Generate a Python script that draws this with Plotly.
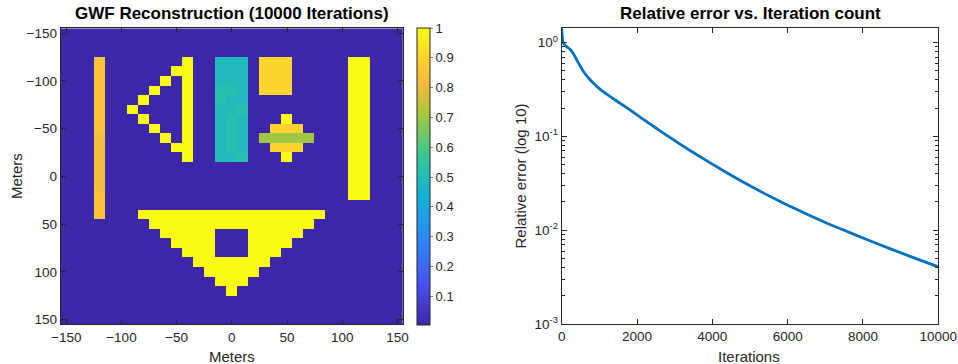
import plotly.graph_objects as go

# ---------------- data ----------------
grid_x = list(range(-150, 151, 10))
grid_y = list(range(-150, 151, 10))
background_value = 0.004

# rectangles: (x_min, x_max, y_min, y_max, value)  (cell centres, metres)
rectangles = [
    (-120, -120, -120, -50, 0.85),   # left orange bar (upper)
    (-120, -120, -40, 10, 0.83),     # left orange bar (middle, darker)
    (-120, -120, 20, 40, 0.85),      # left orange bar (lower)
    (-40, -40, -120, -20, 1.0),      # triangle vertical edge
    (-10, 10, -120, -20, 0.49),      # cyan block
    (30, 50, -120, -90, 0.90),       # orange square
    (40, 60, -50, -50, 0.90),        # diamond upper row
    (30, 70, -40, -40, 0.70),        # diamond green bar
    (40, 60, -30, -30, 0.90),        # diamond lower row
    (110, 120, -120, 20, 1.0),       # right yellow bar
]
# single cells: (x, y, value)
cells = [
    (-50, -110, 1.0), (-60, -100, 1.0), (-70, -90, 1.0), (-80, -80, 1.0),
    (-90, -70, 1.0), (-80, -60, 1.0), (-70, -50, 1.0), (-60, -40, 1.0),
    (-50, -30, 1.0),
    (-10, -90, 0.52), (0, -90, 0.52), (-10, -80, 0.52), (10, -70, 0.52),
    (0, -60, 0.52), (0, -50, 0.52), (0, -40, 0.52), (0, -30, 0.52),
    (10, -20, 0.52),
    (50, -60, 1.0), (50, -20, 1.0),
]
# bottom triangle rows: y and half-width
tri_rows_y = [40, 50, 60, 70, 80, 90, 100, 110, 120]
tri_half_width = [80, 70, 60, 50, 40, 30, 20, 10, 0]
tri_value = 1.0
hole = (-10, 10, 60, 80)

# convergence curve
iterations = [0, 15, 30, 60, 130, 220, 290, 353, 420, 490, 560, 640, 720,
              800, 900, 1000, 1100, 1200, 1400, 1600, 1800, 2000, 2200, 2400,
              2600, 2800, 3000, 3300, 3600, 4000, 4500, 5000, 5500, 6000,
              6500, 7000, 7500, 8000, 8500, 9000, 9500, 10000]
rel_error = [1.42, 1.148, 1.023, 0.966, 0.906, 0.849, 0.785, 0.708, 0.631,
             0.562, 0.505, 0.456, 0.417, 0.385, 0.351, 0.323, 0.300, 0.280,
             0.2474, 0.2190, 0.1930, 0.1696, 0.1489, 0.1309, 0.1153, 0.1019,
             0.0902, 0.0753, 0.0634, 0.0506, 0.0385, 0.0297, 0.0233, 0.0185,
             0.0149, 0.0121, 0.00998, 0.00826, 0.00687, 0.00574, 0.00482,
             0.00406]

cbar_ticks = [0.1, 0.2, 0.3, 0.4, 0.5, 0.6, 0.7, 0.8, 0.9, 1.0]
x_ticks = [-150, -100, -50, 0, 50, 100, 150]
it_ticks = [0, 2000, 4000, 6000, 8000, 10000]
err_ticks = [1e-3, 1e-2, 1e-1, 1.0]
err_ticktext = ["10<sup>-3</sup>", "10<sup>-2</sup>", "10<sup>-1</sup>", "10<sup>0</sup>"]
err_minor = [m * 10.0 ** e for e in (-3, -2, -1, 0) for m in range(2, 10) if m * 10.0 ** e < 1.42]

# ---------------- build grid ----------------
ix = {v: i for i, v in enumerate(grid_x)}
iy = {v: i for i, v in enumerate(grid_y)}
z = [[background_value for _ in grid_x] for _ in grid_y]
for x0, x1, y0, y1, v in rectangles:
    for xx in range(x0, x1 + 1, 10):
        for yy in range(y0, y1 + 1, 10):
            z[iy[yy]][ix[xx]] = v
for xx, yy, v in cells:
    z[iy[yy]][ix[xx]] = v
for yy, hw in zip(tri_rows_y, tri_half_width):
    for xx in range(-hw, hw + 1, 10):
        z[iy[yy]][ix[xx]] = tri_value
for xx in range(hole[0], hole[1] + 1, 10):
    for yy in range(hole[2], hole[3] + 1, 10):
        z[iy[yy]][ix[xx]] = background_value

parula = [
    [0.0, "rgb(62,38,168)"],
    [0.143, "rgb(72,82,244)"],
    [0.286, "rgb(46,135,247)"],
    [0.429, "rgb(18,177,214)"],
    [0.571, "rgb(55,200,151)"],
    [0.714, "rgb(171,199,57)"],
    [0.80, "rgb(236,186,60)"],
    [0.857, "rgb(254,195,56)"],
    [1.0, "rgb(249,251,21)"],
]

FONT = "Liberation Sans, Arial, Helvetica, sans-serif"
AX = "#262626"
W, H = 958, 364

fig = go.Figure()
fig.add_trace(go.Heatmap(
    x=grid_x, y=grid_y, z=z, colorscale=parula, zmin=background_value, zmax=1.0,
    xaxis="x", yaxis="y", zsmooth=False, hoverinfo="skip",
    colorbar=dict(
        x=417 / W, xanchor="left", xpad=0, ypad=0,
        y=1 - 176.5 / H, yanchor="middle", len=297, lenmode="pixels",
        thickness=13, outlinecolor=AX, outlinewidth=1,
        tickvals=cbar_ticks, ticktext=[f"{t:g}" for t in cbar_ticks],
        ticks="outside", ticklen=3, tickcolor="#8a8a8a",
        tickfont=dict(family=FONT, size=13, color=AX),
    ),
))
fig.add_trace(go.Scatter(
    x=iterations, y=rel_error, mode="lines", xaxis="x2", yaxis="y2",
    line=dict(color="#0072BD", width=2.8, shape="spline", smoothing=0.6),
    showlegend=False, hoverinfo="skip",
))

common = dict(showline=True, linecolor=AX, linewidth=1, mirror="allticks",
              ticks="inside", ticklen=5, tickcolor=AX, showgrid=False,
              zeroline=False, automargin=False,
              tickfont=dict(family=FONT, size=13.5, color=AX))

fig.update_layout(
    template="none",
    width=W, height=H, margin=dict(l=0, r=0, t=0, b=0, pad=0), autosize=False,
    paper_bgcolor="white", plot_bgcolor="white", showlegend=False,
    xaxis=dict(domain=[60.7 / W, 403 / W], range=[-155, 155], anchor="y",
               tickvals=x_ticks, **common),
    yaxis=dict(domain=[1 - 324.3 / H, 1 - 28.3 / H], range=[155, -155], anchor="x",
               tickvals=x_ticks, **common),
    xaxis2=dict(domain=[561.7 / W, 938.3 / W], range=[0, 10000], anchor="y2",
                tickvals=it_ticks, ticktext=[str(t) for t in it_ticks], **common),
    yaxis2=dict(domain=[1 - 324 / H, 1 - 28.3 / H], type="log",
                range=[-3, 0.1523], anchor="x2",
                tickvals=err_ticks, ticktext=err_ticktext,
                minor=dict(tickmode="array", tickvals=err_minor, ticks="inside",
                           ticklen=3, tickcolor=AX, showgrid=False),
                **common),
)

def ann(text, x, y, size, bold=False, angle=0):
    fig.add_annotation(
        text=f"<b>{text}</b>" if bold else text, x=x / W, y=1 - y / H,
        xref="paper", yref="paper", showarrow=False, textangle=angle,
        xanchor="center", yanchor="middle",
        font=dict(family=FONT, size=size, color="#000000" if bold else AX))

ann("GWF Reconstruction (10000 Iterations)", 231.7, 13.5, 17, bold=True)
ann("Relative error vs. Iteration count", 750, 13.5, 17, bold=True)
ann("Meters", 232, 356, 15)
ann("Meters", 16, 176, 15, angle=-90)
ann("Iterations", 749, 356, 15)
ann("Relative error (log 10)", 520, 176.5, 15, angle=-90)

fig.write_html("out.html")
